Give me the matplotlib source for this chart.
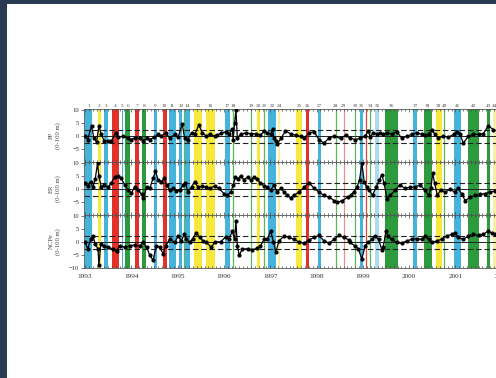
import numpy as np
import matplotlib
matplotlib.use("Agg")
import matplotlib.pyplot as plt
from matplotlib.patches import Rectangle
from matplotlib.ticker import MultipleLocator
from matplotlib.transforms import blended_transform_factory

plt.rcParams['font.family'] = ['Liberation Serif', 'DejaVu Serif']

# ---- data ----
pp_t = [1993.00, 1993.06, 1993.14, 1993.19, 1993.25, 1993.30, 1993.35, 1993.41, 1993.50, 1993.57,
        1993.66, 1993.71, 1993.82, 1993.93, 1994.00, 1994.07, 1994.18, 1994.25, 1994.33, 1994.40,
        1994.50, 1994.58, 1994.65, 1994.74, 1994.83, 1994.94, 1995.01, 1995.10, 1995.15, 1995.22,
        1995.30, 1995.37, 1995.46, 1995.53, 1995.62, 1995.69, 1995.80, 1995.86, 1995.93, 1996.04,
        1996.11, 1996.18, 1996.20, 1996.23, 1996.26, 1996.29, 1996.36, 1996.47, 1996.58, 1996.69,
        1996.79, 1996.87, 1996.94, 1997.01, 1997.05, 1997.08, 1997.12, 1997.15, 1997.23, 1997.33,
        1997.44, 1997.55, 1997.66, 1997.73, 1997.84, 1997.95, 1998.05, 1998.16, 1998.27, 1998.38,
        1998.52, 1998.63, 1998.72, 1998.83, 1998.94, 1999.05, 1999.12, 1999.16, 1999.23, 1999.30,
        1999.37, 1999.44, 1999.52, 1999.62, 1999.73, 1999.84, 1999.95, 2000.06, 2000.16, 2000.27,
        2000.34, 2000.42, 2000.49, 2000.56, 2000.63, 2000.74, 2000.85, 2000.96, 2001.03, 2001.10,
        2001.17, 2001.28, 2001.39, 2001.50, 2001.60, 2001.71, 2001.82]
pp_v = [0.0, -1.3, 4.0, -0.7, -2.3, 4.0, 0.7, -1.7, -2.0, -2.0,
        1.3, -0.4, 0.0, -0.9, -1.3, -0.7, -0.9, -1.7, -0.9, -1.3,
        -0.4, 0.7, 0.0, 1.3, -0.7, 0.7, -0.4, 4.7, -0.7, -1.3,
        1.3, 0.7, 4.4, 1.3, 0.0, 0.7, 0.0, 0.3, 1.2, 1.7,
        0.7, 2.7, -1.3, 5.0, 10.0, -0.7, 0.7, 1.3, 0.9, 0.9,
        0.4, 2.0, 1.3, 0.7, 2.7, -0.7, -2.0, -3.1, -0.9, 2.0,
        0.9, 0.3, 0.0, -0.7, 1.3, 1.7, -1.3, -2.7, -0.7, 0.0,
        -0.9, 0.4, -0.7, -1.3, -0.9, 0.0, 2.0, -0.4, 1.3, 0.7,
        1.3, 0.7, 1.3, 0.9, 1.7, -0.7, 0.0, 0.7, 1.3, 0.7,
        0.3, 0.9, 2.3, 0.7, -0.7, 0.0, -0.4, 0.7, 1.7, 0.7,
        -2.7, 0.0, 0.7, 0.7, 0.9, 4.0, 2.5]

er_t = [1993.00, 1993.06, 1993.12, 1993.17, 1993.22, 1993.27, 1993.30, 1993.35, 1993.42, 1993.50,
        1993.57, 1993.64, 1993.71, 1993.78, 1993.86, 1993.93, 1994.00, 1994.07, 1994.15, 1994.22,
        1994.26, 1994.33, 1994.40, 1994.47, 1994.52, 1994.58, 1994.65, 1994.71, 1994.76, 1994.83,
        1994.90, 1994.97, 1995.05, 1995.12, 1995.17, 1995.22, 1995.30, 1995.37, 1995.44, 1995.53,
        1995.62, 1995.69, 1995.80, 1995.89, 1996.00, 1996.07, 1996.15, 1996.20, 1996.25, 1996.30,
        1996.36, 1996.43, 1996.51, 1996.58, 1996.65, 1996.72, 1996.79, 1996.87, 1996.94, 1997.01,
        1997.08, 1997.15, 1997.23, 1997.30, 1997.37, 1997.44, 1997.51, 1997.62, 1997.73, 1997.84,
        1997.95, 1998.05, 1998.16, 1998.27, 1998.38, 1998.45, 1998.56, 1998.67, 1998.74, 1998.80,
        1998.87, 1998.93, 1998.98, 1999.03, 1999.08, 1999.14, 1999.21, 1999.29, 1999.36, 1999.41,
        1999.46, 1999.52, 1999.59, 1999.70, 1999.80, 1999.91, 2000.02, 2000.13, 2000.24, 2000.34,
        2000.42, 2000.47, 2000.51, 2000.55, 2000.61, 2000.68, 2000.78, 2000.88, 2000.99, 2001.06,
        2001.14, 2001.21, 2001.32, 2001.42, 2001.53, 2001.64, 2001.75, 2001.86]
er_v = [2.3, 1.2, 2.9, 0.7, 3.9, 10.0, 4.9, 0.9, 1.6, 0.7,
        2.5, 4.7, 5.2, 4.3, 1.6, -0.4, -1.5, 0.7, -0.4, -2.0,
        -3.5, 0.7, 0.3, 4.3, 6.9, 3.6, 2.9, 4.3, 1.6, -0.4,
        0.3, -0.7, -0.4, 1.6, 2.5, -1.1, 0.9, 2.9, 0.7, 1.2,
        0.7, 0.3, 1.2, 0.3, -1.7, -2.4, -1.1, 1.6, 4.7, 3.9,
        5.2, 3.6, 4.7, 3.6, 4.7, 3.9, 2.3, 1.2, 0.7, -0.4,
        1.6, -1.1, 0.3, -1.1, -2.4, -3.3, -2.4, -1.1, 0.7, 2.5,
        0.3, -1.1, -2.4, -3.1, -4.4, -5.1, -4.4, -3.1, -2.4, -1.1,
        0.7, 3.6, 10.0, 2.9, 0.7, -0.4, -2.4, 0.9, 3.6, 5.6,
        2.3, -3.7, -2.4, -0.4, 1.6, 0.3, 0.7, 0.9, 1.6, -0.4,
        -2.4, 0.3, 6.3, 2.3, -2.4, -0.4, -1.1, -0.1, -1.1, 0.3,
        -2.0, -4.4, -3.1, -2.4, -2.0, -1.7, -1.1, -0.7]

ncp_t = [1993.00, 1993.06, 1993.12, 1993.17, 1993.22, 1993.28, 1993.30, 1993.34, 1993.41, 1993.50,
         1993.60, 1993.68, 1993.75, 1993.86, 1993.97, 1994.07, 1994.18, 1994.25, 1994.33, 1994.40,
         1994.47, 1994.54, 1994.61, 1994.69, 1994.74, 1994.83, 1994.94, 1995.01, 1995.08, 1995.14,
         1995.19, 1995.26, 1995.33, 1995.40, 1995.48, 1995.55, 1995.62, 1995.73, 1995.80, 1995.93,
         1996.04, 1996.11, 1996.18, 1996.23, 1996.26, 1996.29, 1996.33, 1996.40, 1996.51, 1996.61,
         1996.72, 1996.79, 1996.87, 1996.94, 1997.01, 1997.07, 1997.12, 1997.19, 1997.30, 1997.41,
         1997.51, 1997.62, 1997.73, 1997.84, 1997.95, 1998.05, 1998.16, 1998.27, 1998.38, 1998.49,
         1998.59, 1998.70, 1998.72, 1998.83, 1998.90, 1998.98, 1999.05, 1999.12, 1999.19, 1999.26,
         1999.34, 1999.41, 1999.44, 1999.50, 1999.55, 1999.62, 1999.73, 1999.84, 1999.95, 2000.06,
         2000.16, 2000.27, 2000.34, 2000.42, 2000.49, 2000.60, 2000.70, 2000.81, 2000.92, 2000.99,
         2001.06, 2001.17, 2001.28, 2001.39, 2001.50, 2001.60, 2001.71, 2001.78, 2001.86]
ncp_v = [-0.1, -2.6, 1.1, 2.4, -0.8, -2.6, -8.9, -0.8, -1.4, -2.0,
         -2.6, -3.3, -1.4, -2.0, -1.4, -1.1, -1.4, -0.1, -2.0, -5.1,
         -7.0, -1.4, -2.0, -4.5, -1.4, 1.1, -0.1, 2.4, 0.5, 3.0,
         1.1, -0.1, 1.4, 3.6, 1.8, 0.5, -0.1, -2.0, 0.1, 0.1,
         2.1, 1.1, 4.3, 1.1, 8.0, -1.4, -5.1, -2.6, -2.6, -2.9,
         -2.4, -1.4, 1.1, 1.4, 4.3, 0.1, -3.9, 0.5, 2.4, 1.8,
         1.1, 0.1, -0.4, 0.9, 1.8, 2.6, 0.5, -0.4, 1.1, 2.6,
         1.8, 0.9, -0.1, -1.4, -2.6, -6.4, -1.4, -0.1, 1.1, 2.4,
         1.1, -2.9, -2.0, 4.3, 2.4, 1.1, -0.1, -0.4, 0.5, 1.1,
         1.4, 1.1, 2.4, 1.1, -0.1, 0.5, 1.1, 2.4, 3.0, 3.6,
         1.8, 1.1, 2.4, 3.0, 2.6, 3.0, 4.3, 3.6, 3.0]

# event bands: start, end, kind
band_start = [1993.01, 1993.27, 1993.41, 1993.58, 1993.79, 1993.87, 1994.09, 1994.23, 1994.49, 1994.68,
              1994.81, 1995.04, 1995.13, 1995.17, 1995.35, 1995.62, 1996.02, 1996.20, 1996.59, 1996.71,
              1996.87, 1996.96, 1997.17, 1997.55, 1997.77, 1998.03, 1998.41, 1998.59, 1998.83, 1998.94,
              1999.06, 1999.16, 1999.27, 1999.48, 2000.09, 2000.32, 2000.58, 2000.76, 2000.97, 2001.28,
              2001.68, 2001.82]
band_end = [1993.14, 1993.34, 1993.50, 1993.74, 1993.83, 1993.98, 1994.17, 1994.32, 1994.56, 1994.76,
            1994.97, 1995.10, 1995.13, 1995.26, 1995.53, 1995.80, 1996.13, 1996.20, 1996.59, 1996.79,
            1996.87, 1997.13, 1997.21, 1997.69, 1997.84, 1998.10, 1998.41, 1998.59, 1998.83, 1999.01,
            1999.06, 1999.16, 1999.36, 1999.75, 2000.18, 2000.49, 2000.70, 2000.76, 2001.11, 2001.50,
            2001.75, 2001.88]
band_kind = ['b', 'y', 'b', 'r', 'b', 'g', 'r', 'g', 'b', 'r',
             'b', 'b', 'gl', 'b', 'y', 'y', 'b', 'gl', 'gl', 'y',
             'gl', 'b', 'py', 'y', 'r', 'b', 'gl', 'pl', 'gl', 'b',
             'rl', 'gl', 'pb', 'g', 'b', 'g', 'y', 'gl', 'b', 'g',
             'g', 'py']

event_label = ['1', '2', '3', '4', '5', '6', '7', '8', '9', '10', '11', '12', '14', '15', '16',
               '17', '18', '19', '20', '21', '22', '24', '25', '26', '27', '28', '29', '30', '31',
               '34', '35', '36', '37', '38', '39', '40', '41', '42', '43', '44']
event_x = [1993.075, 1993.305, 1993.455, 1993.66, 1993.81, 1993.925, 1994.13, 1994.275, 1994.525,
           1994.72, 1994.89, 1995.07, 1995.215, 1995.44, 1995.71, 1996.075, 1996.2, 1996.59, 1996.75,
           1996.87, 1997.045, 1997.19, 1997.62, 1997.805, 1998.065, 1998.41, 1998.59, 1998.83,
           1998.975, 1999.16, 1999.315, 1999.615, 2000.135, 2000.405, 2000.64, 2000.765, 2001.04,
           2001.39, 2001.715, 2001.85]

years = list(range(1993, 2003))
panel_names = ['PP\n(0-100 m)', 'ER\n(0-100 m)', 'NCPe\n(0-100 m)']

kind_color = {'b': '#45b3dc', 'y': '#f6e83c', 'r': '#e2322a', 'g': '#2e9a3e',
              'gl': '#5cb85c', 'pl': '#e89090', 'rl': '#d94a3a',
              'py': '#f7f0a8', 'pb': '#a9dcf0'}

# ---- figure: slide look, dark frame, white page ----
W, H = 496, 378
fig = plt.figure(figsize=(W / 100, H / 100), dpi=100)
fig.patch.set_facecolor('#2a3a52')
fig.add_artist(Rectangle((7 / W, 0), 1, 1 - 4 / H, transform=fig.transFigure,
                         facecolor='white', edgecolor='none', zorder=0))

left = 84 / W
x0, x1 = 1992.978, 2002.5
width = (x1 - x0) * 46.3 / W   # runs off the right side like the photo
top_px, bot_px = 109, 268
ph = (bot_px - top_px) / 3 / H

series = [(pp_t, pp_v), (er_t, er_v), (ncp_t, ncp_v)]
axes = []
for i, (t, v) in enumerate(series):
    bottom = 1 - (top_px / H) - (i + 1) * ph
    ax = fig.add_axes([left, bottom, width, ph])
    axes.append(ax)
    for s, e, k in zip(band_start, band_end, band_kind):
        if k.endswith('l'):
            ax.axvline(s, color=kind_color[k], lw=0.9, zorder=1)
        else:
            ax.axvspan(s, e, color=kind_color[k], lw=0, zorder=1)
    ax.axhline(0, color='#222222', lw=0.7, zorder=2)
    for lv in (2.5, -2.5):
        ax.axhline(lv, color='#222222', lw=0.8, ls=(0, (5, 2.5)), zorder=2)
    ax.plot(t, v, color='black', lw=0.9, marker='o', ms=2.0, zorder=3)
    ax.set_xlim(x0, x1)
    ax.set_ylim(-10, 10.5)
    ax.set_yticks([-10, -5, 0, 5, 10] if i == 2 else [-5, 0, 5, 10])
    ax.set_xticks(years)
    ax.xaxis.set_minor_locator(MultipleLocator(1 / 12))
    ax.tick_params(axis='x', which='both', direction='in', top=True, length=1.5,
                   width=0.5, color='#444444')
    ax.tick_params(axis='x', which='major', length=2.5)
    ax.tick_params(axis='y', length=2, width=0.5, pad=1.5, labelsize=4.7,
                   labelcolor='#333333', color='#444444')
    if i < 2:
        ax.set_xticklabels([])
    else:
        ax.tick_params(axis='x', labelsize=5.2, pad=4, labelcolor='#333333')
    for sp in ax.spines.values():
        sp.set_linewidth(0.6)
        sp.set_color('#555555')
    fig.text(55 / W, bottom + ph / 2, panel_names[i], rotation=90, ha='center', va='center',
             fontsize=4.8, color='#444444', linespacing=1.3)

trans = blended_transform_factory(axes[0].transData, axes[0].transAxes)
for lab, xx in zip(event_label, event_x):
    axes[0].text(xx, 1.015, lab, transform=trans, ha='center', va='bottom',
                 fontsize=3.8, color='#444444')

fig.savefig('out.png', dpi=100)
